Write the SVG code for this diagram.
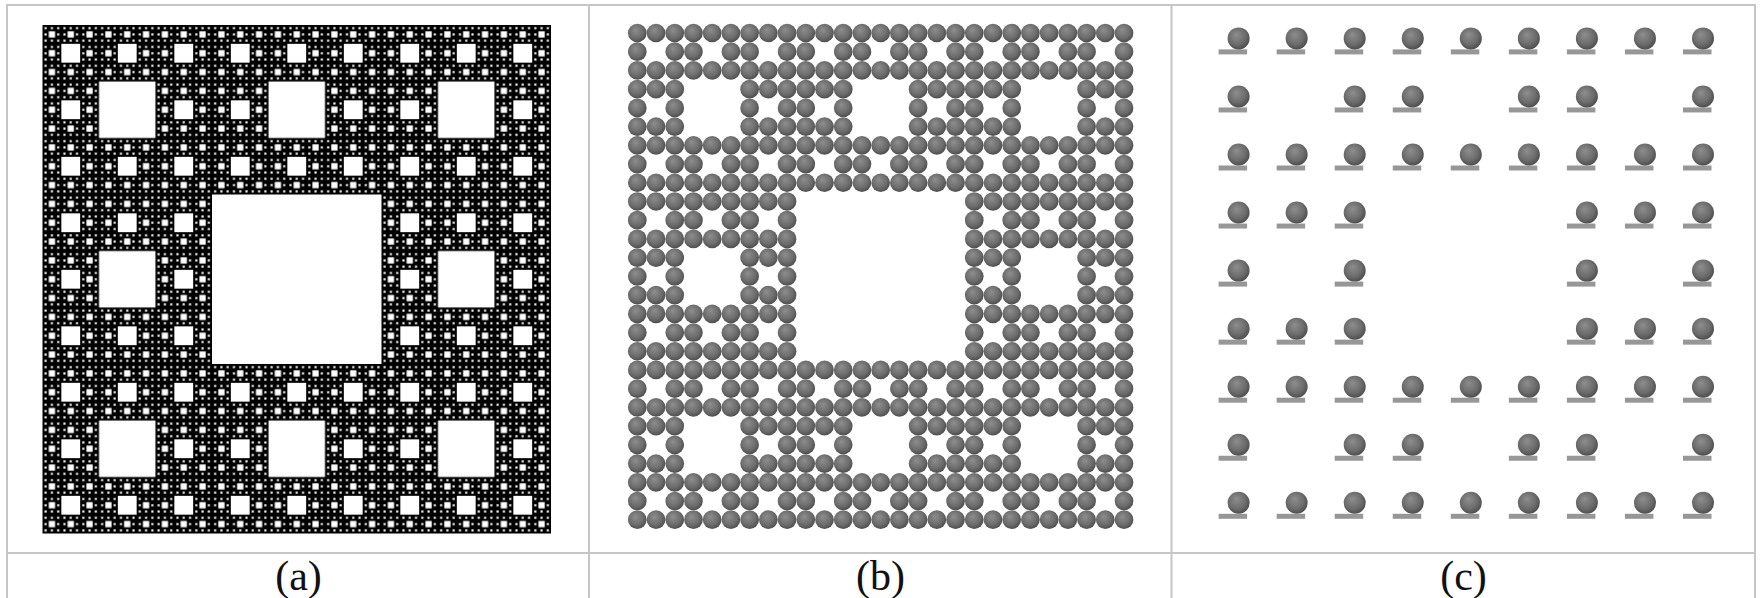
<svg xmlns="http://www.w3.org/2000/svg" xmlns:xlink="http://www.w3.org/1999/xlink" width="1762" height="598" viewBox="0 0 1762 598">
  <style>
    .rule { stroke: #c6c6c6; stroke-width: 2; fill: none; }
    .cap { font-family: "Liberation Serif", "Times New Roman", serif; font-size: 42px; fill: #111; text-anchor: middle; }
    .bar { fill: #979797; }
    .hole { fill: #ffffff; }
  </style>
  <defs>
    <!-- shading for the spheres -->
    <radialGradient id="shade" cx="0.45" cy="0.42" r="0.6" fx="0.4" fy="0.33">
      <stop offset="0" stop-color="#8e8e8e"/>
      <stop offset="0.65" stop-color="#6c6c6c"/>
      <stop offset="1" stop-color="#4c4c4c"/>
    </radialGradient>

    <!-- carpet holes, one tiled pattern per level (side 508.5) -->
    <pattern id="h2" patternUnits="userSpaceOnUse" x="42.5" y="25" width="169.5" height="169.5">
      <rect class="hole" x="56.5" y="56.5" width="56.5" height="56.5"/>
    </pattern>
    <pattern id="h3" patternUnits="userSpaceOnUse" x="42.5" y="25" width="56.5" height="56.5">
      <rect class="hole" x="18.8333" y="18.8333" width="18.8333" height="18.8333"/>
    </pattern>
    <pattern id="h4" patternUnits="userSpaceOnUse" x="42.5" y="25" width="18.8333" height="18.8333">
      <rect class="hole" x="6.2778" y="6.2778" width="6.2778" height="6.2778"/>
    </pattern>
    <pattern id="h5" patternUnits="userSpaceOnUse" x="42.5" y="25" width="6.2778" height="6.2778">
      <rect class="hole" x="2.0926" y="2.0926" width="2.0926" height="2.0926"/>
    </pattern>

    <!-- packed spheres: 3x3 block without centre, nested three times -->
    <circle id="ball" r="9.35" fill="url(#shade)"/>
    <g id="b1">
      <use href="#ball" x="0" y="0"/><use href="#ball" x="18.72" y="0"/><use href="#ball" x="37.44" y="0"/>
      <use href="#ball" x="0" y="18.72"/><use href="#ball" x="37.44" y="18.72"/>
      <use href="#ball" x="0" y="37.44"/><use href="#ball" x="18.72" y="37.44"/><use href="#ball" x="37.44" y="37.44"/>
    </g>
    <g id="b2">
      <use href="#b1" x="0" y="0"/><use href="#b1" x="56.16" y="0"/><use href="#b1" x="112.32" y="0"/>
      <use href="#b1" x="0" y="56.16"/><use href="#b1" x="112.32" y="56.16"/>
      <use href="#b1" x="0" y="112.32"/><use href="#b1" x="56.16" y="112.32"/><use href="#b1" x="112.32" y="112.32"/>
    </g>
    <g id="b3">
      <use href="#b2" x="0" y="0"/><use href="#b2" x="168.48" y="0"/><use href="#b2" x="336.96" y="0"/>
      <use href="#b2" x="0" y="168.48"/><use href="#b2" x="336.96" y="168.48"/>
      <use href="#b2" x="0" y="336.96"/><use href="#b2" x="168.48" y="336.96"/><use href="#b2" x="336.96" y="336.96"/>
    </g>

    <!-- sphere resting on a pad -->
    <g id="post">
      <rect class="bar" x="-20" y="11" width="28.5" height="5"/>
      <circle r="11" fill="url(#shade)"/>
    </g>
    <g id="c1">
      <use href="#post" x="0" y="0"/><use href="#post" x="58.05" y="0"/><use href="#post" x="116.1" y="0"/>
      <use href="#post" x="0" y="58.05"/><use href="#post" x="116.1" y="58.05"/>
      <use href="#post" x="0" y="116.1"/><use href="#post" x="58.05" y="116.1"/><use href="#post" x="116.1" y="116.1"/>
    </g>
    <g id="c2">
      <use href="#c1" x="0" y="0"/><use href="#c1" x="174.15" y="0"/><use href="#c1" x="348.3" y="0"/>
      <use href="#c1" x="0" y="174.15"/><use href="#c1" x="348.3" y="174.15"/>
      <use href="#c1" x="0" y="348.3"/><use href="#c1" x="174.15" y="348.3"/><use href="#c1" x="348.3" y="348.3"/>
    </g>
  </defs>

  <rect width="1762" height="598" fill="#ffffff"/>

  <!-- table rules -->
  <g id="table">
    <line class="rule" x1="6" y1="5" x2="1756" y2="5"/>
    <line class="rule" x1="6" y1="553" x2="1756" y2="553"/>
    <line class="rule" x1="7" y1="4" x2="7" y2="598"/>
    <line class="rule" x1="589" y1="4" x2="589" y2="598"/>
    <line class="rule" x1="1171.5" y1="4" x2="1171.5" y2="598"/>
    <line class="rule" x1="1755" y1="4" x2="1755" y2="598"/>
  </g>

  <!-- (a) Sierpinski carpet -->
  <g id="panel-a">
    <rect x="42.5" y="25" width="508.5" height="508.5" fill="#000000"/>
    <rect class="hole" x="212" y="194.5" width="169.5" height="169.5"/>
    <rect x="42.5" y="25" width="508.5" height="508.5" fill="url(#h2)"/>
    <rect x="42.5" y="25" width="508.5" height="508.5" fill="url(#h3)"/>
    <rect x="42.5" y="25" width="508.5" height="508.5" fill="url(#h4)"/>
    <rect x="42.5" y="25" width="508.5" height="508.5" fill="url(#h5)"/>
  </g>

  <!-- (b) packed spheres -->
  <g id="panel-b">
    <use href="#b3" transform="translate(637.3 33)"/>
  </g>

  <!-- (c) spheres on pads -->
  <g id="panel-c">
    <use href="#c2" transform="translate(1238.6 38.4)"/>
  </g>

  <!-- captions -->
  <g id="captions">
    <text class="cap" x="298.5" y="590">(a)</text>
    <text class="cap" x="880.5" y="590">(b)</text>
    <text class="cap" x="1463.5" y="590">(c)</text>
  </g>
</svg>
